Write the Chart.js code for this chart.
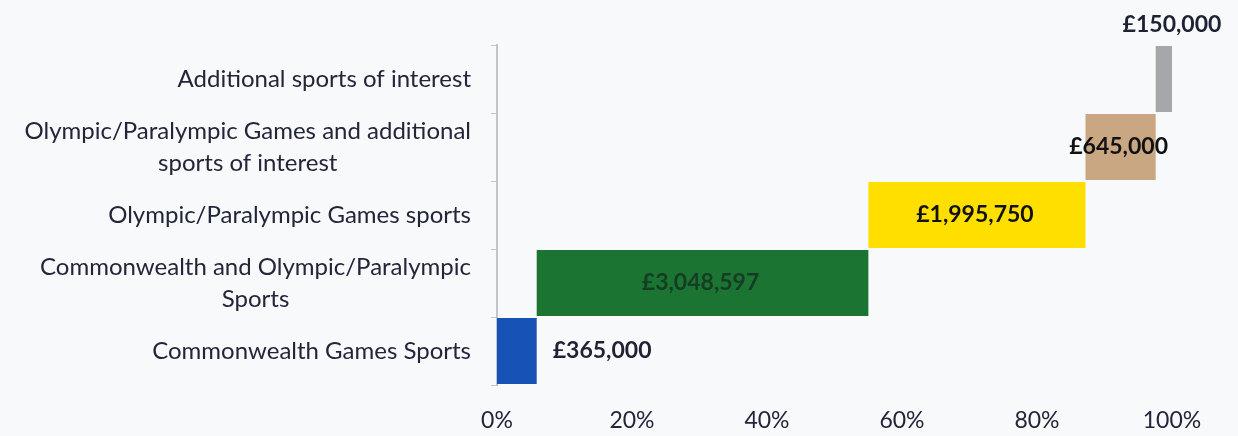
<!DOCTYPE html>
<html>
<head>
<meta charset="utf-8">
<script src="https://cdn.jsdelivr.net/npm/chart.js@4.4.0/dist/chart.umd.min.js"></script>
<style>
    html, body { margin: 0; padding: 0; background: #f8f9fb; }
    #wrap { width: 1238px; height: 436px; position: relative; }
</style>
</head>
<body>
<div id="wrap"><canvas id="fundingChart"></canvas></div>
<script>
// categories, top to bottom
const categories = [
    ['Additional sports of interest'],
    ['Olympic/Paralympic Games and additional', 'sports of interest'],
    ['Olympic/Paralympic Games sports'],
    ['Commonwealth and Olympic/Paralympic', 'Sports'],
    ['Commonwealth Games Sports']
];
// funding in £, same order
const funding = [150000, 645000, 1995750, 3048597, 365000];
const xTickValues = [0, 20, 40, 60, 80, 100];

const barColours = ['#a5a7ab', '#c9a783', '#ffdf00', '#1c7433', '#1753b6'];
const valueColours = ['#1f2233', '#111111', '#111111', '#143d24', '#1f2233'];
const valuePlace = ['above', 'center', 'center', 'center', 'right'];
const textColour = '#222638';
const fontFamily = 'Lato, "Open Sans", sans-serif';

// waterfall: start at the bottom category, stack upward as % of total
const total = funding.reduce((a, b) => a + b, 0);
const ranges = new Array(funding.length);
let running = 0;
for (let i = funding.length - 1; i >= 0; i--) {
    const start = running / total * 100;
    running += funding[i];
    ranges[i] = [start, running / total * 100];
}

const labelsPlugin = {
    id: 'labelsPlugin',
    afterDatasetsDraw(chart) {
        const ctx = chart.ctx;
        const meta = chart.getDatasetMeta(0);
        const yScale = chart.scales.y;
        ctx.save();

        // category labels: block right aligned, lines centred
        ctx.font = '24px ' + fontFamily;
        ctx.fillStyle = textColour;
        ctx.textAlign = 'center';
        ctx.textBaseline = 'middle';
        const lineH = 32;
        categories.forEach((lines, i) => {
            const yc = yScale.getPixelForValue(i);
            const maxW = Math.max(...lines.map(l => ctx.measureText(l).width));
            const cx = 471 - maxW / 2;
            lines.forEach((l, j) => {
                ctx.fillText(l, cx, yc + (j - (lines.length - 1) / 2) * lineH);
            });
        });

        // value labels
        ctx.font = 'bold 23px ' + fontFamily;
        meta.data.forEach((el, i) => {
            const text = '£' + funding[i].toLocaleString('en-GB');
            ctx.fillStyle = valueColours[i];
            if (valuePlace[i] === 'above') {
                ctx.textAlign = 'center';
                ctx.fillText(text, el.x, el.y - el.height / 2 - 21);
            } else if (valuePlace[i] === 'right') {
                ctx.textAlign = 'left';
                ctx.fillText(text, el.x + 16, el.y);
            } else {
                ctx.textAlign = 'center';
                ctx.fillText(text, (el.x + el.base) / 2 - 2, el.y);
            }
        });
        ctx.restore();
    }
};

new Chart(document.getElementById('fundingChart'), {
    type: 'bar',
    data: {
        labels: categories,
        datasets: [{
            data: ranges,
            backgroundColor: barColours,
            borderWidth: 0,
            categoryPercentage: 1,
            barPercentage: 0.97
        }]
    },
    options: {
        indexAxis: 'y',
        responsive: true,
        maintainAspectRatio: false,
        animation: false,
        layout: { padding: { top: 45, right: 66, left: 0, bottom: 0 } },
        plugins: {
            legend: { display: false },
            tooltip: { enabled: false }
        },
        scales: {
            x: {
                min: 0,
                max: 100,
                afterBuildTicks: (s) => { s.ticks = xTickValues.map(v => ({ value: v })); },
                ticks: {
                    callback: (v) => v + '%',
                    color: textColour,
                    font: { family: fontFamily, size: 23 },
                    padding: 22
                },
                grid: { display: false, drawTicks: false },
                border: { display: false },
                afterFit: (s) => { s.height = 51; }
            },
            y: {
                ticks: { display: false },
                grid: {
                    offset: true,
                    drawOnChartArea: false,
                    tickLength: 6,
                    color: '#c2c4ca'
                },
                border: { color: '#c2c4ca', width: 2 },
                afterFit: (s) => { s.width = 497; }
            }
        }
    },
    plugins: [labelsPlugin]
});
</script>
</body>
</html>
